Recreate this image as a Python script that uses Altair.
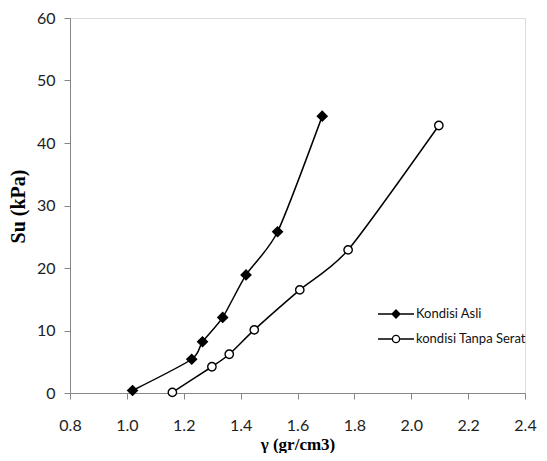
import altair as alt
import pandas as pd

series_names = ["Kondisi Asli", "kondisi Tanpa Serat"]
asli_x = [1.02, 1.228, 1.266, 1.337, 1.419, 1.53, 1.687]
asli_y = [0.4, 5.4, 8.2, 12.1, 18.9, 25.8, 44.3]
tanpa_x = [1.16, 1.299, 1.36, 1.448, 1.608, 1.778, 2.097]
tanpa_y = [0.1, 4.2, 6.2, 10.1, 16.5, 22.9, 42.8]
x_ticks = [0.8, 1.0, 1.2, 1.4, 1.6, 1.8, 2.0, 2.2, 2.4]
y_ticks = [0, 10, 20, 30, 40, 50, 60]

rows = []
for x, y in zip(asli_x, asli_y):
    rows.append({"x": x, "y": y, "series": series_names[0]})
for x, y in zip(tanpa_x, tanpa_y):
    rows.append({"x": x, "y": y, "series": series_names[1]})
df = pd.DataFrame(rows)

AX = "#868686"
xenc = alt.X("x:Q", scale=alt.Scale(domain=[0.8, 2.4], nice=False, zero=False),
             axis=alt.Axis(values=x_ticks, format=".1f", grid=False, domainColor=AX, tickColor=AX,
                           tickSize=6, labelFont="Lato", labelFontSize=16, labelColor="#222",
                           labelPadding=18, labelFlush=False, labelOverlap=False,
                           title="γ (gr/cm3)", titleFont="Liberation Serif", titleFontWeight="bold",
                           titleFontSize=17, titleColor="#000", titleY=51, titleBaseline="middle"))
yenc = alt.Y("y:Q", scale=alt.Scale(domain=[0, 60], nice=False),
             axis=alt.Axis(values=y_ticks, grid=False, domainColor=AX, tickColor=AX,
                           tickSize=6, labelFont="Lato", labelFontSize=16, labelColor="#222",
                           labelPadding=9, labelFlush=False, labelOverlap=False,
                           title="Su (kPa)", titleFont="Liberation Serif", titleFontWeight="bold",
                           titleFontSize=20, titleColor="#000", titleX=-52, titleY=188,
                           titleBaseline="middle", titleAlign="center"))

base = alt.Chart(df)

lines = base.mark_line(color="black", strokeWidth=1.5, interpolate="cardinal", tension=0.3).encode(
    x=xenc, y=yenc, detail="series:N")

pts_asli = base.transform_filter(alt.datum.series == series_names[0]).mark_point(
    shape="diamond", filled=True, fill="black", stroke="black", strokeWidth=1.2, size=100, opacity=1
).encode(x=xenc, y=yenc)

pts_tanpa = base.transform_filter(alt.datum.series == series_names[1]).mark_point(
    shape="circle", filled=True, fill="white", stroke="black", strokeWidth=1.4, size=70, opacity=1
).encode(x=xenc, y=yenc)

p_asli = "M-1.8,0L1.8,0M0,-0.4L0.4,0L0,0.4L-0.4,0Z"
p_tanpa = ("M-1.8,0L-0.36,0M0.36,0L1.8,0M0.36,0A0.36,0.36,0,1,1,-0.36,0"
           "A0.36,0.36,0,1,1,0.36,0Z")

legend = alt.Legend(title=None, orient="none", legendX=315, legendY=285, padding=0,
                    symbolSize=400, symbolStrokeColor="black", symbolStrokeWidth=1.3,
                    symbolOpacity=1,
                    labelFont="Lato", labelFontSize=13, labelColor="#111", labelOffset=9,
                    rowPadding=7)

legend_layer = base.mark_point(filled=True, strokeWidth=1.3, opacity=0).encode(
    x=xenc, y=yenc,
    shape=alt.Shape("series:N", scale=alt.Scale(domain=series_names, range=[p_asli, p_tanpa]), legend=legend),
    fill=alt.Fill("series:N", scale=alt.Scale(domain=series_names, range=["black", "white"]), legend=legend),
    stroke=alt.Stroke("series:N", scale=alt.Scale(domain=series_names, range=["black", "black"]), legend=legend),
)

chart = alt.layer(lines, pts_asli, pts_tanpa, legend_layer).properties(
    width=455, height=375,
    padding={"left": 62, "top": 10, "right": 14, "bottom": 60},
    autosize="none",
).configure_view(stroke=None).configure(background="white")

chart.save("out.html", embed_options={"renderer": "svg", "actions": False})
